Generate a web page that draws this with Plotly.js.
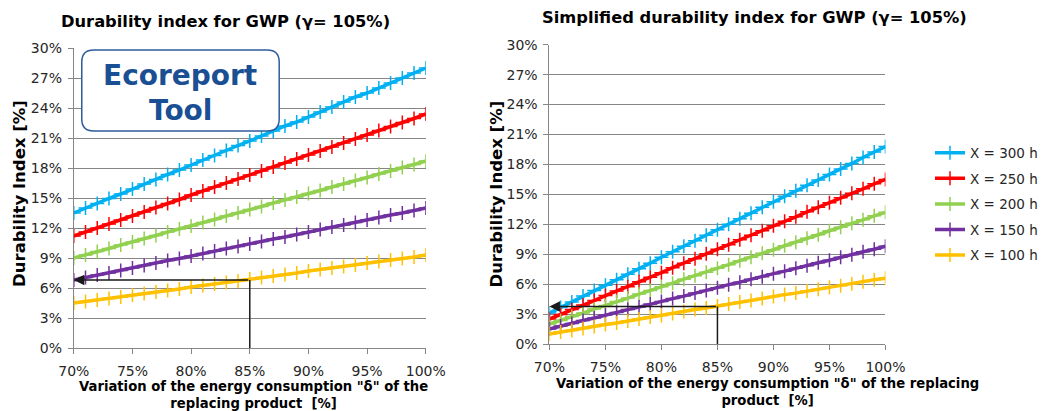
<!DOCTYPE html>
<html>
<head>
<meta charset="utf-8">
<script src="https://cdn.plot.ly/plotly-3.0.1.min.js"></script>
<style>html,body{margin:0;padding:0;background:#fff;}#chart{width:1043px;height:411px;}</style>
</head>
<body>
<div id="chart"></div>
<script>
// ---- data (values in %) ----
const delta = [70,71,72,73,74,75,76,77,78,79,80,81,82,83,84,85,86,87,88,89,90,91,92,93,94,95,96,97,98,99,100];
const seriesNames = ['X = 300 h','X = 250 h','X = 200 h','X = 150 h','X = 100 h'];

// Left chart: Durability index for GWP
const full300 = [13.5,14.0,14.45,14.95,15.4,15.9,16.4,16.85,17.35,17.8,18.3,18.8,19.25,19.75,20.25,20.7,21.2,21.7,22.2,22.6,23.1,23.6,24.1,24.6,25.1,25.5,26.0,26.5,27.0,27.5,28.0];
const full250 = [11.2,11.6,12.0,12.4,12.8,13.2,13.6,14.05,14.45,14.85,15.3,15.7,16.1,16.5,16.9,17.3,17.7,18.1,18.5,18.9,19.3,19.7,20.1,20.5,20.9,21.3,21.75,22.15,22.55,22.95,23.4];
const full200 = [9.0,9.3,9.65,9.95,10.3,10.6,10.95,11.25,11.6,11.9,12.2,12.55,12.85,13.2,13.5,13.85,14.15,14.5,14.8,15.1,15.45,15.75,16.1,16.4,16.75,17.05,17.4,17.7,18.05,18.35,18.7];
const full150 = [6.8,7.05,7.3,7.5,7.75,8.0,8.25,8.5,8.75,8.95,9.2,9.45,9.7,9.95,10.15,10.4,10.65,10.9,11.1,11.35,11.6,11.85,12.1,12.3,12.55,12.8,13.05,13.3,13.5,13.75,14.0];
const full100 = [4.5,4.65,4.8,4.95,5.1,5.3,5.45,5.6,5.75,5.9,6.1,6.25,6.4,6.55,6.7,6.9,7.05,7.2,7.35,7.5,7.7,7.85,8.0,8.15,8.3,8.5,8.65,8.8,8.95,9.1,9.3];

// Right chart: Simplified durability index for GWP
const simp300 = [3.1,3.65,4.2,4.8,5.35,5.9,6.45,7.0,7.55,8.1,8.7,9.25,9.8,10.35,10.9,11.45,12.0,12.55,13.1,13.7,14.25,14.8,15.35,15.9,16.45,17.0,17.55,18.1,18.7,19.25,19.8];
const simp250 = [2.5,2.95,3.45,3.9,4.35,4.85,5.3,5.75,6.25,6.7,7.15,7.65,8.1,8.55,9.05,9.5,9.95,10.45,10.9,11.35,11.85,12.3,12.75,13.25,13.7,14.15,14.65,15.1,15.55,16.05,16.5];
const simp200 = [2.0,2.35,2.75,3.1,3.5,3.85,4.25,4.6,5.0,5.35,5.75,6.1,6.5,6.85,7.2,7.6,7.95,8.35,8.7,9.1,9.45,9.85,10.2,10.6,10.95,11.35,11.7,12.1,12.45,12.85,13.2];
const simp150 = [1.5,1.8,2.05,2.35,2.6,2.9,3.15,3.45,3.7,4.0,4.25,4.55,4.8,5.1,5.35,5.65,5.95,6.2,6.5,6.75,7.05,7.3,7.6,7.85,8.15,8.4,8.7,8.95,9.25,9.5,9.8];
const simp100 = [1.0,1.2,1.35,1.55,1.75,1.95,2.1,2.3,2.5,2.7,2.85,3.05,3.25,3.45,3.6,3.8,4.0,4.2,4.35,4.55,4.75,4.95,5.1,5.3,5.5,5.7,5.85,6.05,6.25,6.45,6.6];

// reading example (arrow): delta = 85%, read-off index values
const readDelta = 85;
const readFull = 6.8;
const readSimp = 3.75;

const xTickVals = [70,75,80,85,90,95,100];
const xTickText = ['70%','75%','80%','85%','90%','95%','100%'];
const yTickVals = [0,3,6,9,12,15,18,21,24,27,30];
const yTickText = ['0%','3%','6%','9%','12%','15%','18%','21%','24%','27%','30%'];

// ---- styles ----
const colors = ['#00B0F0','#FF0000','#92D050','#7030A0','#FFC000'];
const W = 1043, H = 411;
const px = v => v / W;
const py = v => 1 - v / H;
const FONT = 'DejaVu Sans, Verdana, sans-serif';

const fullSets = [full300, full250, full200, full150, full100];
const simpSets = [simp300, simp250, simp200, simp150, simp100];

const traces = [];
function addSet(sets, xa, ya, show) {
  sets.forEach((vals, i) => {
    traces.push({
      x: delta, y: vals, xaxis: xa, yaxis: ya,
      type: 'scatter', mode: 'lines+markers',
      name: seriesNames[i], legendgroup: 'g' + i, showlegend: show,
      line: {color: colors[i], width: 3.5},
      marker: {symbol: 'cross-thin', size: 10, color: colors[i], line: {color: colors[i], width: 1.5}},
      hoverinfo: 'skip'
    });
  });
}
addSet(fullSets, 'x', 'y', false);
addSet(simpSets, 'x2', 'y2', true);

const axisX = (domain, anchor) => ({
  domain, anchor, range: [70, 100], tickmode: 'array', tickvals: xTickVals, ticktext: xTickText,
  showgrid: false, zeroline: false, showline: true, linecolor: '#868686', linewidth: 1,
  ticks: 'outside', ticklen: 5, tickcolor: '#868686', ticklabelstandoff: 5,
  tickfont: {family: FONT, size: 14, color: '#262626'}, fixedrange: true
});
const axisY = (domain, anchor) => ({
  domain, anchor, range: [0, 30], tickmode: 'array', tickvals: yTickVals, ticktext: yTickText,
  showgrid: true, gridcolor: '#868686', gridwidth: 1, zeroline: false,
  showline: true, linecolor: '#868686', linewidth: 1,
  ticks: 'outside', ticklen: 5, tickcolor: '#868686', ticklabelstandoff: 3,
  tickfont: {family: FONT, size: 14, color: '#262626'}, fixedrange: true
});

// rounded box for the "Ecoreport Tool" label
function roundRect(x0, y0, x1, y1, r) {
  const P = (x, y) => px(x) + ',' + py(y);
  return 'M' + P(x0 + r, y0) + ' L' + P(x1 - r, y0) + ' Q' + P(x1, y0) + ' ' + P(x1, y0 + r) +
    ' L' + P(x1, y1 - r) + ' Q' + P(x1, y1) + ' ' + P(x1 - r, y1) +
    ' L' + P(x0 + r, y1) + ' Q' + P(x0, y1) + ' ' + P(x0, y1 - r) +
    ' L' + P(x0, y0 + r) + ' Q' + P(x0, y0) + ' ' + P(x0 + r, y0) + ' Z';
}

const black = '#1a1a1a';
const layout = {
  width: W, height: H,
  margin: {l: 0, r: 0, t: 0, b: 0},
  paper_bgcolor: '#ffffff', plot_bgcolor: '#ffffff',
  font: {family: FONT, color: '#262626'},
  xaxis: axisX([px(74), px(427)], 'y'),
  yaxis: axisY([py(348), py(48)], 'x'),
  xaxis2: axisX([px(551), px(888)], 'y2'),
  yaxis2: axisY([py(344), py(44.7)], 'x2'),
  showlegend: true,
  legend: {
    x: px(933), y: py(137.5), xanchor: 'left', yanchor: 'top',
    font: {family: FONT, size: 13.5, color: '#262626'},
    tracegroupgap: 5, bgcolor: 'rgba(0,0,0,0)'
  },
  shapes: [
    {type: 'path', xref: 'paper', yref: 'paper', path: roundRect(82, 50, 280, 131, 12),
     fillcolor: '#ffffff', line: {color: '#2F5C9C', width: 1.5}, layer: 'above'},
    {type: 'line', xref: 'x', yref: 'y', x0: readDelta, x1: readDelta, y0: 0, y1: readFull,
     line: {color: black, width: 1.5}},
    {type: 'line', xref: 'x2', yref: 'y2', x0: readDelta, x1: readDelta, y0: 0, y1: readSimp,
     line: {color: black, width: 1.5}}
  ],
  annotations: [
    {xref: 'paper', yref: 'paper', x: px(226), y: py(21), text: '<b>Durability index for GWP (γ= 105%)</b>',
     showarrow: false, font: {family: FONT, size: 16.3, color: '#000'}, xanchor: 'center', yanchor: 'middle'},
    {xref: 'paper', yref: 'paper', x: px(757), y: py(18), text: '<b>Simplified durability index for GWP (γ= 105%)</b>',
     showarrow: false, font: {family: FONT, size: 16.3, color: '#000'}, xanchor: 'center', yanchor: 'middle'},
    {xref: 'paper', yref: 'paper', x: px(19), y: py(193), text: '<b>Durability Index [%]</b>', textangle: -90,
     showarrow: false, font: {family: FONT, size: 16.5, color: '#000'}, xanchor: 'center', yanchor: 'middle'},
    {xref: 'paper', yref: 'paper', x: px(497), y: py(194), text: '<b>Durability Index [%]</b>', textangle: -90,
     showarrow: false, font: {family: FONT, size: 16.5, color: '#000'}, xanchor: 'center', yanchor: 'middle'},
    {xref: 'paper', yref: 'paper', x: px(254), y: py(395),
     text: '<b>Variation of the energy consumption "δ" of the<br>replacing product  [%]</b>',
     showarrow: false, font: {family: FONT, size: 13.2, color: '#000'}, xanchor: 'center', yanchor: 'middle', align: 'center'},
    {xref: 'paper', yref: 'paper', x: px(770), y: py(392),
     text: '<b>Variation of the energy consumption "δ" of the replacing<br>product  [%]</b>',
     showarrow: false, font: {family: FONT, size: 13.2, color: '#000'}, xanchor: 'center', yanchor: 'middle', align: 'center'},
    {xref: 'paper', yref: 'paper', x: px(181), y: py(75), text: '<b>Ecoreport</b>',
     showarrow: false, font: {family: FONT, size: 28, color: '#1B4F93'}, xanchor: 'center', yanchor: 'middle'},
    {xref: 'paper', yref: 'paper', x: px(181), y: py(110), text: '<b>Tool</b>',
     showarrow: false, font: {family: FONT, size: 28, color: '#1B4F93'}, xanchor: 'center', yanchor: 'middle'},
    // arrows
    {xref: 'x', yref: 'y', axref: 'x', ayref: 'y', x: 70, y: readFull, ax: readDelta, ay: readFull, text: '',
     showarrow: true, arrowhead: 2, arrowsize: 1.4, arrowwidth: 1.5, arrowcolor: black, standoff: 0},
    {xref: 'x2', yref: 'y2', axref: 'x2', ayref: 'y2', x: 70, y: readSimp, ax: readDelta, ay: readSimp, text: '',
     showarrow: true, arrowhead: 2, arrowsize: 1.4, arrowwidth: 1.5, arrowcolor: black, standoff: 0}
  ]
};

Plotly.newPlot('chart', traces, layout, {staticPlot: true, displayModeBar: false});
</script>
</body>
</html>
